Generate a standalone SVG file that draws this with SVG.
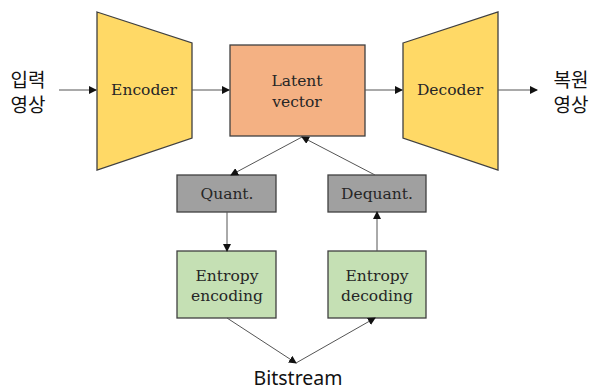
<svg xmlns="http://www.w3.org/2000/svg" width="590" height="391" viewBox="0 0 590 391">
<defs>
<style>
.shape{stroke:#404040;stroke-width:1.3}
.yel{fill:#FFD966}
.org{fill:#F4B183}
.gry{fill:#A0A0A0}
.grn{fill:#C5E0B4}
.lbl{font-family:"DejaVu Serif","Liberation Serif",serif;font-size:15.5px;fill:#262626;text-anchor:middle}
.kr{font-family:"Noto Sans CJK KR","Noto Sans",sans-serif;font-size:19px;fill:#111;text-anchor:middle}
.bs{font-family:"Noto Sans","Noto Sans CJK KR",sans-serif;font-size:19.5px;fill:#111;text-anchor:middle}
.conn{stroke:#555;stroke-width:1;fill:none;marker-end:url(#ah)}
</style>
<marker id="ah" markerWidth="8" markerHeight="8" refX="7" refY="4" orient="auto" markerUnits="userSpaceOnUse">
<path d="M0,0 L8,4 L0,8 Z" fill="#111"/>
</marker>
</defs>
<rect width="590" height="391" fill="#fff"/>
<g id="input"><text class="kr" x="28" y="87">입력</text><text class="kr" x="28" y="112">영상</text></g>
<g id="encoder"><polygon class="shape yel" points="97,12 192,43 192,138 97,170"/><text class="lbl" x="144" y="95">Encoder</text></g>
<g id="latent"><rect class="shape org" x="230" y="45" width="135" height="91"/><text class="lbl" x="297" y="86">Latent</text><text class="lbl" x="297" y="107">vector</text></g>
<g id="decoder"><polygon class="shape yel" points="403,43 498,12 498,170 403,138"/><text class="lbl" x="450" y="95">Decoder</text></g>
<g id="output"><text class="kr" x="571" y="87">복원</text><text class="kr" x="571" y="112">영상</text></g>
<g id="quant"><rect class="shape gry" x="177" y="175" width="99" height="37"/><text class="lbl" x="227" y="199">Quant.</text></g>
<g id="dequant"><rect class="shape gry" x="328" y="175" width="98" height="37"/><text class="lbl" x="377" y="199">Dequant.</text></g>
<g id="entenc"><rect class="shape grn" x="177" y="251" width="99" height="67"/><text class="lbl" x="227" y="281">Entropy</text><text class="lbl" x="227" y="301">encoding</text></g>
<g id="entdec"><rect class="shape grn" x="328" y="251" width="98" height="67"/><text class="lbl" x="377" y="281">Entropy</text><text class="lbl" x="377" y="301">decoding</text></g>
<g id="bitstream"><text class="bs" x="298" y="385">Bitstream</text></g>
<g id="connectors">
<line class="conn" x1="59" y1="90" x2="96" y2="90"/>
<line class="conn" x1="192" y1="90" x2="229" y2="90"/>
<line class="conn" x1="365" y1="90" x2="402" y2="90"/>
<line class="conn" x1="498" y1="90" x2="537" y2="90"/>
<line class="conn" x1="302" y1="137" x2="231" y2="175"/>
<line class="conn" x1="375" y1="175" x2="302" y2="137"/>
<line class="conn" x1="227" y1="212" x2="227" y2="251"/>
<line class="conn" x1="377" y1="251" x2="377" y2="212"/>
<line class="conn" x1="227" y1="318" x2="296" y2="363"/>
<line class="conn" x1="296" y1="363" x2="375" y2="318"/>
</g>
</svg>
